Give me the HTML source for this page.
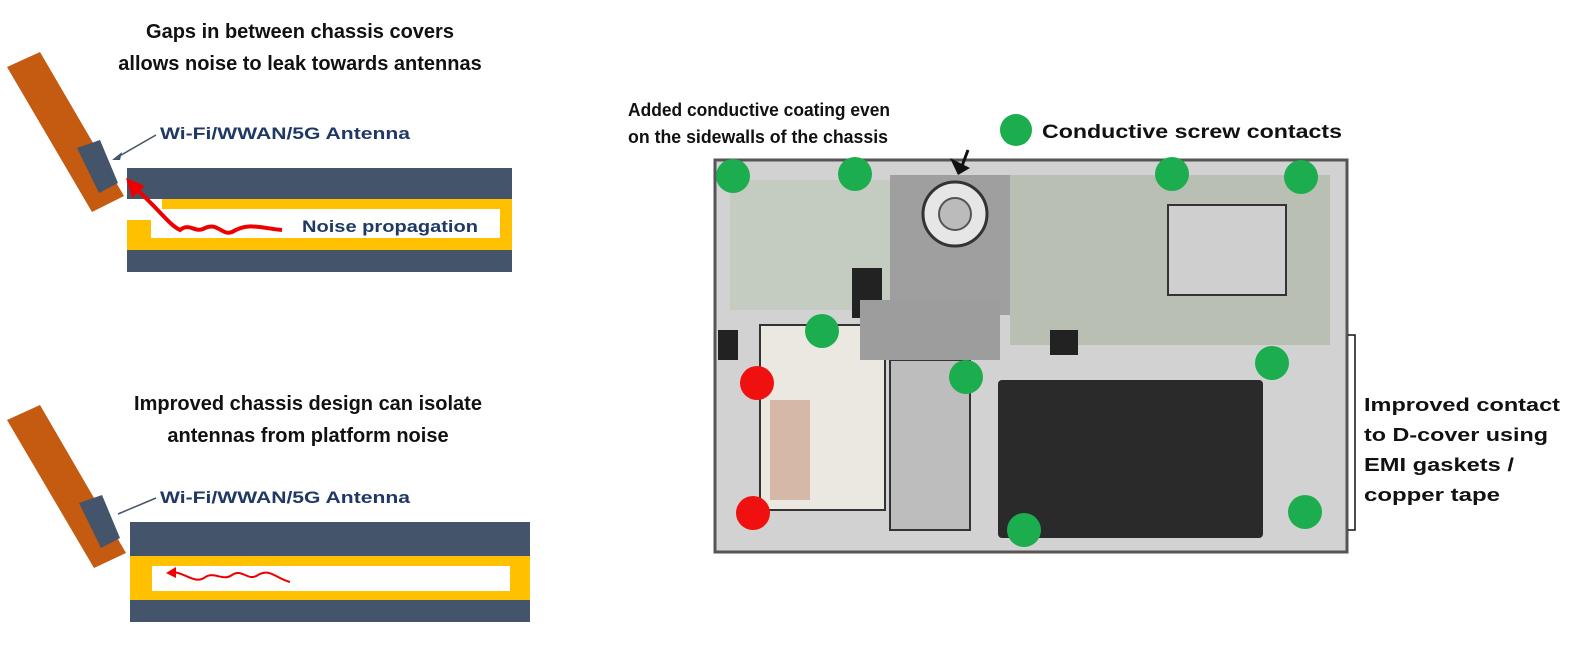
<!DOCTYPE html>
<html><head><meta charset="utf-8"><style>
html,body{margin:0;padding:0;background:#fff;}
svg{display:block;font-family:"Liberation Sans",sans-serif;}
.t{font-weight:bold;font-size:20px;fill:#111;}
.n{font-weight:bold;font-size:17px;fill:#1f3864;}
</style></head><body>
<svg width="1581" height="651" viewBox="0 0 1581 651">
<g>
<text class="t" x="300" y="38" text-anchor="middle">Gaps in between chassis covers</text>
<text class="t" x="300" y="70" text-anchor="middle">allows noise to leak towards antennas</text>
<polygon points="7,67 40,52 124,196 92,212" fill="#c55a11"/>
<polygon points="77,148 100,140 118,183 99,193" fill="#44546a"/>
<text class="n" x="160" y="139" textLength="250" lengthAdjust="spacingAndGlyphs">Wi-Fi/WWAN/5G Antenna</text>
<line x1="156" y1="135" x2="116" y2="158" stroke="#44546a" stroke-width="1.5"/>
<polygon points="112,160 122,152 120,160" fill="#44546a"/>
<rect x="127" y="168" width="385" height="31" fill="#44546a"/>
<rect x="162" y="199" width="350" height="10" fill="#ffc000"/>
<rect x="500" y="199" width="12" height="50" fill="#ffc000"/>
<rect x="127" y="238" width="385" height="12" fill="#ffc000"/>
<rect x="127" y="220" width="24" height="20" fill="#ffc000"/>
<rect x="127" y="250" width="385" height="22" fill="#44546a"/>
<path d="M282,230 C260,228 248,222 232,232 C222,236 218,222 205,228 C195,234 190,222 180,230 C168,224 160,210 135,188" fill="none" stroke="#e00" stroke-width="4"/>
<polygon points="126,178 145,186 132,198" fill="#e00"/>
<text class="n" x="302" y="232" textLength="176" lengthAdjust="spacingAndGlyphs">Noise propagation</text>
</g>
<g>
<text class="t" x="308" y="410" text-anchor="middle">Improved chassis design can isolate</text>
<text class="t" x="308" y="442" text-anchor="middle">antennas from platform noise</text>
<polygon points="7,420 40,405 126,553 94,568" fill="#c55a11"/>
<polygon points="79,503 102,495 120,538 101,548" fill="#44546a"/>
<text class="n" x="160" y="503" textLength="250" lengthAdjust="spacingAndGlyphs">Wi-Fi/WWAN/5G Antenna</text>
<line x1="156" y1="498" x2="118" y2="514" stroke="#44546a" stroke-width="1.5"/>
<rect x="130" y="522" width="400" height="34" fill="#44546a"/>
<rect x="130" y="556" width="400" height="44" fill="#ffc000"/>
<rect x="152" y="566" width="358" height="25" fill="#fff"/>
<rect x="130" y="600" width="400" height="22" fill="#44546a"/>
<path d="M290,582 C275,578 270,568 258,575 C248,582 242,568 232,575 C222,582 214,570 204,578 C194,584 184,572 172,572" fill="none" stroke="#e00" stroke-width="2"/>
<polygon points="166,573 176,567 176,578" fill="#e00"/>
</g>
<text class="t" x="628" y="116" style="font-size:18px" textLength="262" lengthAdjust="spacingAndGlyphs">Added conductive coating even</text>
<text class="t" x="628" y="143" style="font-size:18px" textLength="260" lengthAdjust="spacingAndGlyphs">on the sidewalls of the chassis</text>
<circle cx="1016" cy="130" r="16" fill="#1cae4e"/>
<text class="t" x="1042" y="138" style="font-size:19px" textLength="300" lengthAdjust="spacingAndGlyphs">Conductive screw contacts</text>
<g>
<rect x="715" y="160" width="632" height="392" fill="#d2d2d2"/>
<rect x="715" y="160" width="632" height="392" fill="none" stroke="#555" stroke-width="3"/>
<rect x="730" y="180" width="160" height="130" fill="#c4cbc0"/>
<rect x="890" y="175" width="120" height="140" fill="#9f9f9f"/>
<rect x="1010" y="175" width="320" height="170" fill="#b9bfb3"/>
<rect x="1168" y="205" width="118" height="90" fill="#cfcfcf" stroke="#333" stroke-width="2"/>
<circle cx="955" cy="214" r="32" fill="#e6e6e6" stroke="#333" stroke-width="3"/>
<circle cx="955" cy="214" r="16" fill="#bbb" stroke="#555" stroke-width="2"/>
<rect x="852" y="268" width="30" height="50" fill="#222"/>
<rect x="760" y="325" width="125" height="185" fill="#ebe8e2" stroke="#333" stroke-width="2"/>
<rect x="770" y="400" width="40" height="100" fill="#d6b8a8"/>
<rect x="890" y="360" width="80" height="170" fill="#bdbdbd" stroke="#333" stroke-width="2"/>
<rect x="860" y="300" width="140" height="60" fill="#9d9d9d"/>
<rect x="998" y="380" width="265" height="158" fill="#2a2a2a" rx="4"/>
<rect x="718" y="330" width="20" height="30" fill="#222"/>
<rect x="1050" y="330" width="28" height="25" fill="#222"/>
</g>
<g>
<circle cx="733" cy="176" r="17" fill="#1cae4e"/>
<circle cx="855" cy="174" r="17" fill="#1cae4e"/>
<circle cx="1172" cy="174" r="17" fill="#1cae4e"/>
<circle cx="1301" cy="177" r="17" fill="#1cae4e"/>
<circle cx="822" cy="331" r="17" fill="#1cae4e"/>
<circle cx="966" cy="377" r="17" fill="#1cae4e"/>
<circle cx="1272" cy="363" r="17" fill="#1cae4e"/>
<circle cx="1305" cy="512" r="17" fill="#1cae4e"/>
<circle cx="1024" cy="530" r="17" fill="#1cae4e"/>
<circle cx="757" cy="383" r="17" fill="#f01010"/>
<circle cx="753" cy="513" r="17" fill="#f01010"/>
</g>
<polygon points="950,158 970,168 958,175" fill="#111"/>
<line x1="968" y1="150" x2="962" y2="166" stroke="#111" stroke-width="3"/>
<polyline points="1348,335 1355,335 1355,530 1348,530" fill="none" stroke="#111" stroke-width="1.5"/>
<g>
<text class="t" style="font-size:18px" x="1364" y="411" textLength="196" lengthAdjust="spacingAndGlyphs">Improved contact</text>
<text class="t" style="font-size:18px" x="1364" y="441" textLength="184" lengthAdjust="spacingAndGlyphs">to D-cover using</text>
<text class="t" style="font-size:18px" x="1364" y="471" textLength="150" lengthAdjust="spacingAndGlyphs">EMI gaskets /</text>
<text class="t" style="font-size:18px" x="1364" y="501" textLength="136" lengthAdjust="spacingAndGlyphs">copper tape</text>
</g>
</svg>
</body></html>
